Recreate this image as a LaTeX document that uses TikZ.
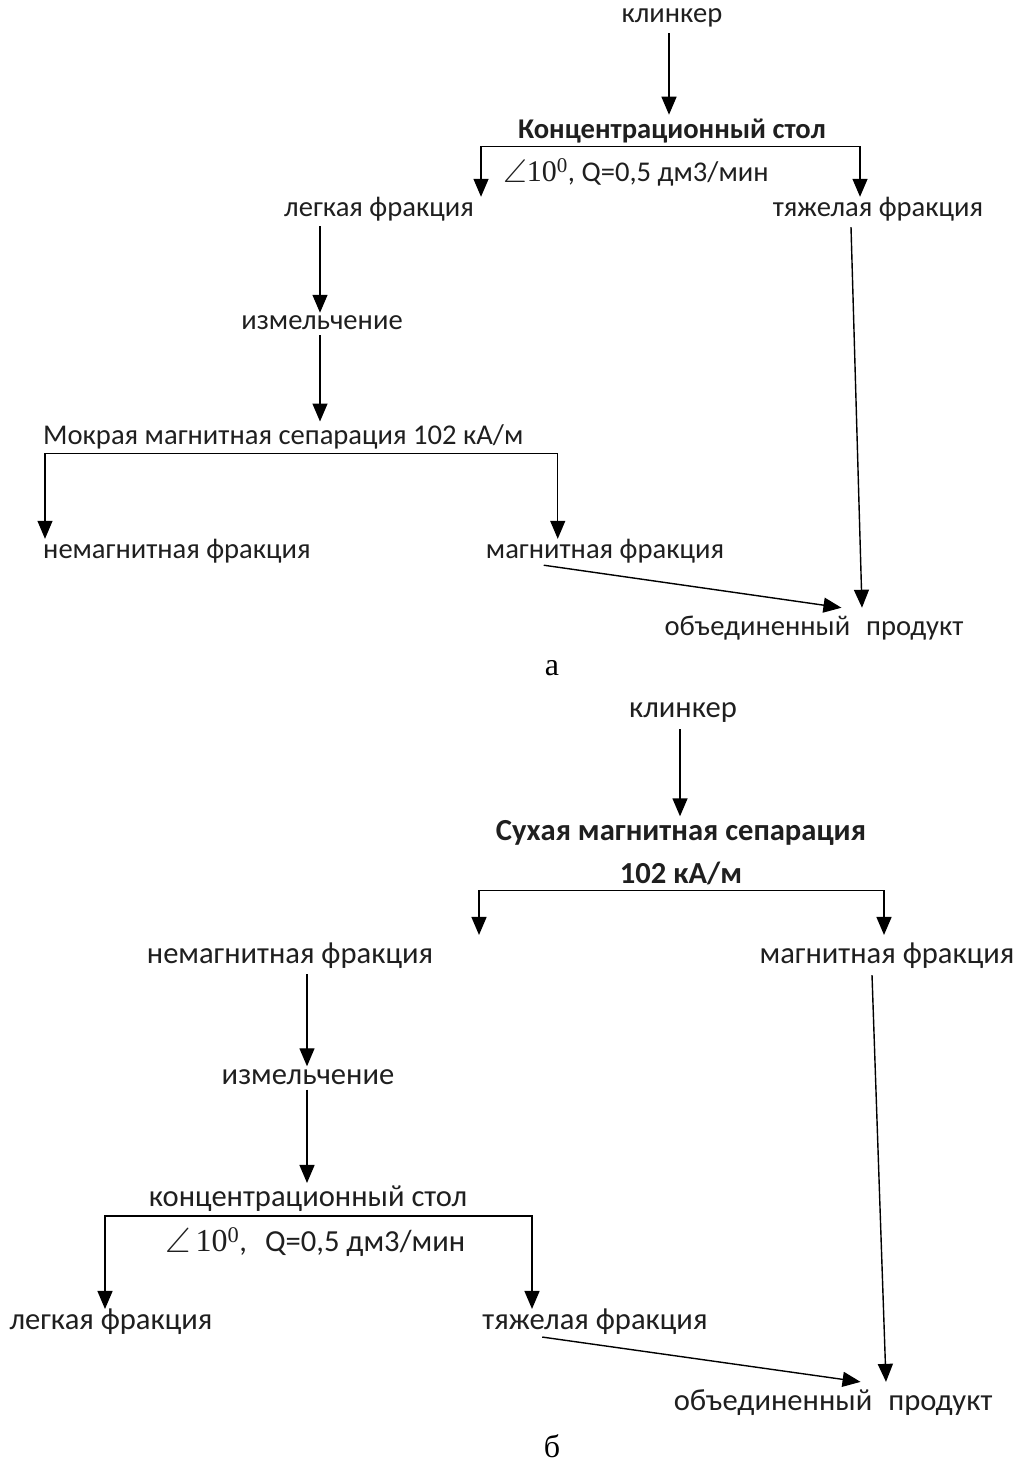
\documentclass[tikz,border=0pt]{standalone}
\usepackage{amssymb}
\usepackage{fontspec}
\setmainfont{Carlito}
\newfontfamily\timesf{Liberation Serif}
\usetikzlibrary{arrows.meta,calc}
\newcommand{\angsym}{\raisebox{-1pt}{\scalebox{1.15}{$\angle$}}}
\begin{document}
\begin{tikzpicture}[x=1pt,y=-1pt,
  lbl/.style={inner sep=0pt, font=\fontsize{28.6}{33}\selectfont, text=black!88},
  lblb/.style={inner sep=0pt, font=\fontsize{30.6}{35}\selectfont, text=black!88},
  captxt/.style={inner sep=0pt, font=\timesf\fontsize{32}{36}\selectfont},
  arr/.style={line width=1.4pt, -{Triangle[length=18pt,width=15pt]}},
  arr2/.style={line width=1.4pt, {Triangle[length=18pt,width=15pt]}-{Triangle[length=18pt,width=15pt]}},
  sh/.style={shorten <=5pt, shorten >=3pt}]
\useasboundingbox (0,0) rectangle (1023,1463);

% ---------------- part a ----------------
\node[lbl] (kl1) at (672,18) {клинкер};
\node[lbl] (ct1) at (672,131) {\bfseries Концентрационный стол};
\node[lbl,anchor=west] (par1) at (503,172) {\angsym{\timesf\fontsize{30}{34}\selectfont 10\textsuperscript{0}}, Q=0,5 дм3/мин};
\node[lbl] (lf1) at (379,209) {легкая фракция};
\node[lbl] (tf1) at (878,209) {тяжелая фракция};
\node[lbl] (iz1) at (322,323) {измельчение};
\node[lbl,anchor=west] (mm1) at (43,437) {Мокрая магнитная сепарация 102 кА/м};
\node[lbl,anchor=west] (nf1) at (43,551) {немагнитная фракция};
\node[lbl] (mf1) at (605,551) {магнитная фракция};
\node[lbl] (op1) at (814,628) {объединенный\hspace{16pt}продукт};
\node[captxt] (ca) at (552,668) {а};

\draw[arr] ($(kl1.south)+(-3,6)$) -- ($(ct1.north)+(-3,-4)$);
\coordinate (b1l) at ($(ct1.south)+(-191,3)$);
\coordinate (b1r) at ($(ct1.south)+(188,3)$);
\draw[arr2] (b1l |- lf1.north) -- (b1l) -- (b1r) -- (b1r |- tf1.north);
\draw[arr,sh] ($(lf1.south)+(-59,0)$) -- ($(iz1.north)+(-2,0)$);
\draw[arr,sh] ($(iz1.south)+(-2,0)$) -- ($(iz1.south |- mm1.north)+(-2,0)$);
\coordinate (b2l) at ($(mm1.south west)+(2,4)$);
\coordinate (b2r) at ($(mf1.north west)+(72,0)$);
\draw[arr2] (b2l |- nf1.north) -- (b2l) -- (b2r |- b2l) -- (b2r);
\draw[arr] ($(mf1.south west)+(58,2)$) -- ($(op1.north west)+(177,-8)$);
\draw[arr] ($(tf1.south)+(-27,6)$) -- ($(op1.north)+(48,-8)$);

% ---------------- part b ----------------
\node[lblb] (kl2) at (683,713) {клинкер};
\node[lblb] (sm2) at (681,833) {\bfseries Сухая магнитная сепарация};
\node[lblb] (ka2) at (681,873) {\bfseries 102 кА/м};
\node[lblb] (nf2) at (290,956) {немагнитная фракция};
\node[lblb] (mf2) at (887,956) {магнитная фракция};
\node[lblb] (iz2) at (308,1077) {измельчение};
\node[lblb] (ct2) at (308,1199) {концентрационный стол};
\node[lblb,anchor=west] (par2) at (165,1242) {\angsym\,{\timesf\fontsize{32}{36}\selectfont 10\textsuperscript{0}},\hspace{18pt}Q=0,5 дм3/мин};
\node[lblb] (lf2) at (111,1322) {легкая фракция};
\node[lblb] (tf2) at (595,1322) {тяжелая фракция};
\node[lblb] (op2) at (833,1403) {объединенный\hspace{16pt}продукт};
\node[captxt] (cb) at (552,1446) {б};

\draw[arr] ($(kl2.south)+(-3,6)$) -- ($(sm2.north)+(-1,-4)$);
\coordinate (b3l) at ($(ka2.south)+(-202,6)$);
\coordinate (b3r) at ($(ka2.south)+(203,6)$);
\draw[arr2] ($(b3l |- nf2.north)+(0,-8)$) -- (b3l) -- (b3r) -- ($(b3r |- mf2.north)+(0,-8)$);
\draw[arr,sh] ($(nf2.south)+(17,0)$) -- ($(iz2.north)+(-1,0)$);
\draw[arr,sh] ($(iz2.south)+(-1,0)$) -- ($(iz2.south |- ct2.north)+(-1,0)$);
\coordinate (b4l) at ($(ct2.south)+(-203,4)$);
\coordinate (b4r) at ($(ct2.south)+(224,4)$);
\draw[arr2] (b4l |- lf2.north) -- (b4l) -- (b4r) -- (b4r |- tf2.north);
\draw[arr] ($(tf2.south west)+(60,2)$) -- ($(op2.north west)+(187,-8)$);
\draw[arr] ($(mf2.south)+(-15,6)$) -- ($(op2.north)+(53,-8)$);
\end{tikzpicture}
\end{document}
